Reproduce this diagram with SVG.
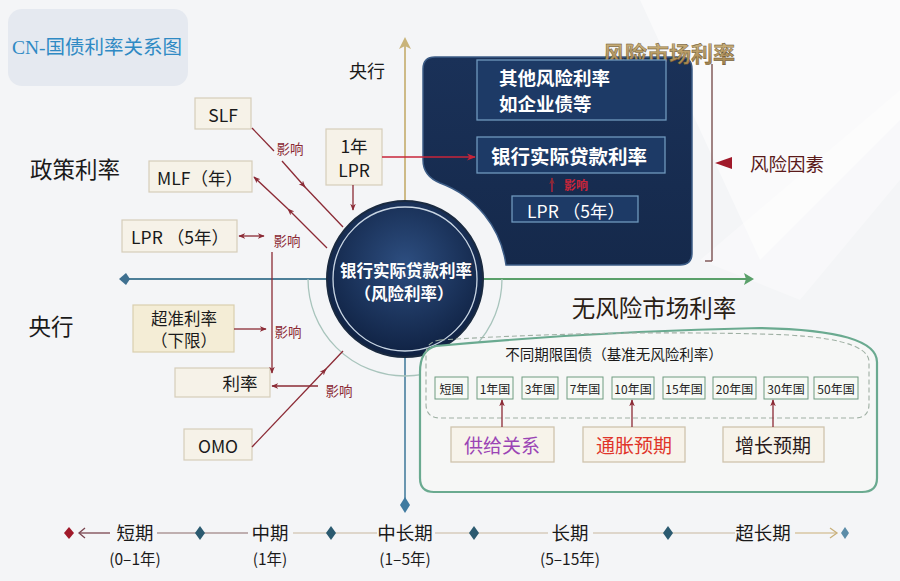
<svg xmlns="http://www.w3.org/2000/svg" width="900" height="581" viewBox="0 0 900 581">
<style>
text{font-family:"Noto Sans CJK SC","Liberation Sans",sans-serif;text-anchor:middle;dominant-baseline:central}
.box{fill:#f6f2e8;stroke:#d6cdb9;stroke-width:1.2}
.boxy{fill:#f4edd6;stroke:#d9cfae;stroke-width:1.2}
.lbl{font-size:17.5px;fill:#1a1a1a}
.big{font-size:22.5px;fill:#1a1a1a}
.inf{font-size:13.5px;fill:#8b2a35}
.con{stroke:#8b2a35;stroke-width:1.3;fill:none}
.pbox{fill:#1d3a66;stroke:#6f98bd;stroke-width:1.3}
.wt{fill:#ffffff;font-weight:bold}
.bond{fill:#f6f9f5;stroke:#6f9c80;stroke-width:1}
.bt{font-size:12px;fill:#222}
.drv{fill:#f7f3ea;stroke:#cfc4ad;stroke-width:1.3}
.tl{font-size:18.5px;fill:#1a1a1a}
.ts{font-size:15.5px;fill:#1a1a1a}
.dia{fill:#2b5a70}
</style>
<defs>
<marker id="ah" viewBox="0 0 10 10" refX="9" refY="5" markerWidth="7" markerHeight="7" orient="auto-start-reverse" markerUnits="userSpaceOnUse">
<path d="M0,1 L10,5 L0,9 L3,5 Z" fill="#8b2a35"/>
</marker>
<marker id="ahr" viewBox="0 0 10 10" refX="9" refY="5" markerWidth="9" markerHeight="9" orient="auto" markerUnits="userSpaceOnUse">
<path d="M0,1 L10,5 L0,9 L3,5 Z" fill="#c8253a"/>
</marker>
<radialGradient id="cg" cx="50%" cy="40%" r="60%">
<stop offset="0" stop-color="#2d4e80"/>
<stop offset="1" stop-color="#0f2142"/>
</radialGradient>
<linearGradient id="pg" x1="0" y1="0" x2="0" y2="1">
<stop offset="0" stop-color="#1a3158"/>
<stop offset="1" stop-color="#15294b"/>
</linearGradient>
<linearGradient id="gold" x1="0" y1="0" x2="0" y2="1">
<stop offset="0" stop-color="#d8c08a"/>
<stop offset="1" stop-color="#9c7b45"/>
</linearGradient>
</defs>

<!-- background -->
<rect width="900" height="581" fill="#f4f5f7"/>
<polygon points="640,0 900,0 900,120 760,260" fill="#ffffff" opacity="0.5"/>
<polygon points="700,260 900,90 900,180 800,300" fill="#ffffff" opacity="0.35"/>

<!-- title -->
<g id="title">
<rect x="8" y="9" width="180" height="77" rx="14" fill="#e5e9f0"/>
<text x="97" y="47" style="font-family:'Liberation Serif','Noto Sans CJK SC',serif;font-size:19.5px;fill:#2f8ac4">CN-国债利率关系图</text>
</g>

<!-- axes -->
<g id="axes">
<line x1="405" y1="44" x2="405" y2="210" stroke="#c9b47a" stroke-width="1.8"/>
<polygon points="405,37 399,49 405,46 411,49" fill="#c9b47a"/>
<line x1="405" y1="350" x2="405" y2="500" stroke="#5b8ca8" stroke-width="1.8"/>
<polygon points="405,497 410,505 405,513 400,505" fill="#3f7aa0"/>
<line x1="128" y1="279" x2="330" y2="279" stroke="#4d7f98" stroke-width="1.8"/>
<polygon points="119,279 126,273 130,279 126,285" fill="#3e7090"/>
<line x1="480" y1="279" x2="748" y2="279" stroke="#5aa06a" stroke-width="1.8"/>
<polygon points="754,279 744,273 746,279 744,285" fill="#5aa06a"/>
<path d="M308,279 A97,97 0 0 0 502,279" fill="none" stroke="#a8c4bc" stroke-width="1.3"/>
</g>

<!-- section labels -->
<g id="labels">
<text x="367" y="70" class="lbl" style="font-size:18px">央行</text>
<text x="75" y="168" class="big">政策利率</text>
<text x="51" y="325" class="big">央行</text>
</g>

<!-- dark risk panel -->
<g id="risk-panel">
<path d="M423,69 Q423,57 435,57 H680 Q692,57 692,69 V253 Q692,265 680,265 H506 A102,102 0 0 0 440,183 Q423,176 423,160 Z" fill="url(#pg)" stroke="#3c5c86" stroke-width="1.5"/>
<text x="669" y="52" style="font-size:22px;font-weight:bold;fill:url(#gold);stroke:#5a4520;stroke-width:0.4">风险市场利率</text>
</g>
<g id="other-risk">
<rect x="477" y="60" width="189" height="60" class="pbox"/>
<text x="499" y="77" class="wt" style="font-size:18.5px;text-anchor:start">其他风险利率</text>
<text x="499" y="103" class="wt" style="font-size:18.5px;text-anchor:start">如企业债等</text>
</g>
<g id="bank-rate">
<rect x="477" y="137" width="188" height="36" class="pbox"/>
<text x="569" y="155" class="wt" style="font-size:19.5px">银行实际贷款利率</text>
</g>
<g id="lpr5-panel">
<rect x="512" y="196" width="126" height="26" class="pbox"/>
<text x="576" y="210" class="wt" style="font-size:17.5px;font-weight:normal">LPR （5年）</text>
</g>
<g id="risk-factor">
<line x1="712" y1="64" x2="712" y2="261" stroke="#7a5050" stroke-width="1.4"/>
<line x1="705" y1="261" x2="712" y2="261" stroke="#7a5050" stroke-width="1.4"/>
<polygon points="715,163 732,157 732,169" fill="#a0192a"/>
<text x="787" y="163" style="font-size:18.5px;fill:#5a1a1a">风险因素</text>
</g>

<!-- center circle -->
<g id="center">
<circle cx="405" cy="279" r="78" fill="url(#cg)" stroke="#1a2a40" stroke-width="2"/>
<circle cx="405" cy="279" r="72" fill="none" stroke="#c9d6e4" stroke-width="1.3"/>
<text x="406" y="270" class="wt" style="font-size:16.5px">银行实际贷款利率</text>
<text x="404" y="293" class="wt" style="font-size:16.5px">（风险利率）</text>
</g>

<!-- left nodes -->
<g id="slf"><rect x="195" y="98" width="56" height="31" class="box"/><text x="223" y="114" class="lbl">SLF</text></g>
<g id="mlf"><rect x="149" y="161" width="103" height="31" class="box"/><text x="200" y="177" class="lbl">MLF（年）</text></g>
<g id="lpr5"><rect x="122" y="220" width="115" height="32" class="box"/><text x="180" y="236" class="lbl">LPR （5年）</text></g>
<g id="lpr1"><rect x="326" y="129" width="56" height="56" class="box"/><text x="354" y="145" class="lbl">1年</text><text x="354" y="169" class="lbl">LPR</text></g>
<g id="excess"><rect x="133" y="305" width="101" height="47" class="boxy"/><text x="184" y="318" class="lbl" style="font-size:16.5px">超准利率</text><text x="184" y="340" class="lbl" style="font-size:16.5px">（下限）</text></g>
<g id="rate"><rect x="175" y="368" width="95" height="29" class="box"/><text x="240" y="382" class="lbl">利率</text></g>
<g id="omo"><rect x="184" y="429" width="68" height="31" class="box"/><text x="218" y="445" class="lbl">OMO</text></g>

<!-- risk-free section -->
<g id="riskfree">
<text x="654" y="307" style="font-size:23.5px;fill:#2a2015">无风险市场利率</text>
<path d="M436,346 Q600,331 760,328 Q877,330 877,362 V478 Q877,492 862,492 H434 Q420,492 420,478 V372 Q420,350 436,346 Z" fill="#f6f7f6" stroke="#6aaa90" stroke-width="2.2"/>
<path d="M440,340 Q600,330 760,334 Q869,336 869,362 V404 Q869,418 855,418 H440 Q426,418 426,404 V354 Q426,342 440,340 Z" fill="none" stroke="#9fb0a4" stroke-width="1.1" stroke-dasharray="5,3"/>
<text x="614" y="353" style="font-size:14.5px;fill:#1a1a1a">不同期限国债（基准无风险利率）</text>
</g>
<g id="bonds">
<g id="b0"><rect x="435" y="377" width="33" height="22" class="bond"/><text x="451.5" y="388" class="bt">短国</text></g>
<g id="b1"><rect x="477" y="377" width="36" height="22" class="bond"/><text x="495" y="388" class="bt">1年国</text></g>
<g id="b3"><rect x="522" y="377" width="36" height="22" class="bond"/><text x="540" y="388" class="bt">3年国</text></g>
<g id="b7"><rect x="567" y="377" width="36" height="22" class="bond"/><text x="585" y="388" class="bt">7年国</text></g>
<g id="b10"><rect x="612" y="377" width="42" height="22" class="bond"/><text x="633" y="388" class="bt">10年国</text></g>
<g id="b15"><rect x="663" y="377" width="42" height="22" class="bond"/><text x="684" y="388" class="bt">15年国</text></g>
<g id="b20"><rect x="713" y="377" width="43" height="22" class="bond"/><text x="734.5" y="388" class="bt">20年国</text></g>
<g id="b30"><rect x="764" y="377" width="44" height="22" class="bond"/><text x="786" y="388" class="bt">30年国</text></g>
<g id="b50"><rect x="814" y="377" width="44" height="22" class="bond"/><text x="836" y="388" class="bt">50年国</text></g>
</g>
<g id="supply"><rect x="451" y="427" width="103" height="35" class="drv"/><text x="502" y="444" style="font-size:19px;fill:#9b45b5">供给关系</text></g>
<g id="inflation"><rect x="583" y="427" width="102" height="35" class="drv"/><text x="634" y="444" style="font-size:19px;fill:#e0352a">通胀预期</text></g>
<g id="growth"><rect x="723" y="427" width="101" height="35" class="drv"/><text x="773" y="444" style="font-size:19px;fill:#2a1a1a">增长预期</text></g>

<!-- connectors -->
<g id="connectors">
<path d="M252,128 L274,151" class="con"/>
<path d="M282,161 L305,187" class="con" marker-end="url(#ah)"/>
<path d="M304,186 L343,227" class="con"/>
<text x="290" y="148" class="inf">影响</text>
<path d="M327,248 L288,209" class="con" marker-end="url(#ah)"/>
<path d="M288,209 L254,177" class="con" marker-end="url(#ah)"/>
<path d="M353,185 L353,210" class="con" marker-end="url(#ah)"/>
<path d="M382,157 L475,157" stroke="#c8253a" stroke-width="1.4" fill="none" marker-end="url(#ahr)"/>
<path d="M552,192 L552,178" stroke="#c8253a" stroke-width="1.3" marker-end="url(#ah)"/>
<text x="576" y="184" style="font-size:12px;fill:#c8253a;font-weight:bold">影响</text>
<path d="M239,236 L264,236" class="con" marker-start="url(#ah)" marker-end="url(#ah)"/>
<text x="287" y="240" class="inf">影响</text>
<path d="M272,252 L272,373" class="con" marker-end="url(#ah)"/>
<path d="M234,329 L266,329" class="con" marker-end="url(#ah)"/>
<text x="288" y="331" class="inf">影响</text>
<path d="M318,386 L272,386" class="con" marker-end="url(#ah)"/>
<text x="339" y="390" class="inf">影响</text>
<path d="M252,447 L326,369" class="con" marker-end="url(#ah)"/>
<path d="M325,370 L343,351" class="con"/>
<path d="M502,427 L502,400" class="con" marker-end="url(#ah)"/>
<path d="M632,427 L632,400" class="con" marker-end="url(#ah)"/>
<path d="M773,427 L773,400" class="con" marker-end="url(#ah)"/>
</g>

<!-- timeline -->
<g id="timeline">
<line x1="80" y1="533" x2="110" y2="533" stroke="#7a4550" stroke-width="1.3"/>
<path d="M85,528 L79,533 L85,538" fill="none" stroke="#7a4550" stroke-width="1.3"/>
<polygon points="64,533 69,527 74,533 69,539" fill="#a0192a"/>
<line x1="157" y1="533" x2="248" y2="533" stroke="#8a6a6a" stroke-width="1.2"/>
<line x1="293" y1="533" x2="377" y2="533" stroke="#c7b8a0" stroke-width="1.2"/>
<line x1="435" y1="533" x2="548" y2="533" stroke="#c7b8a0" stroke-width="1.2"/>
<line x1="593" y1="533" x2="735" y2="533" stroke="#c7b8a0" stroke-width="1.2"/>
<line x1="795" y1="533" x2="836" y2="533" stroke="#c9b07a" stroke-width="1.2"/>
<path d="M830,528 L837,533 L830,538" fill="none" stroke="#c9b07a" stroke-width="1.3"/>
<polygon points="195,533 200,526 205,533 200,540" class="dia"/>
<polygon points="326,533 331,526 336,533 331,540" class="dia"/>
<polygon points="469,533 474,526 479,533 474,540" class="dia"/>
<polygon points="663,533 668,526 673,533 668,540" class="dia"/>
<polygon points="841,533 845,527 849,533 845,539" fill="#5b8ca8"/>
<text x="135" y="532" class="tl">短期</text>
<text x="135" y="558" class="ts">(0–1年)</text>
<text x="270" y="532" class="tl">中期</text>
<text x="270" y="558" class="ts">(1年)</text>
<text x="405" y="532" class="tl">中长期</text>
<text x="405" y="558" class="ts">(1–5年)</text>
<text x="570" y="532" class="tl">长期</text>
<text x="570" y="558" class="ts">(5–15年)</text>
<text x="763" y="532" class="tl">超长期</text>
</g>
</svg>
